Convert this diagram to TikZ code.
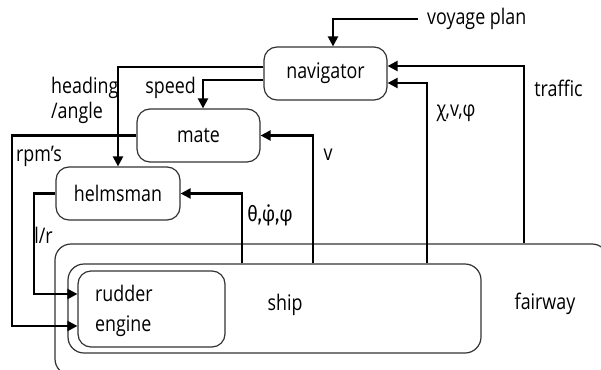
\documentclass[tikz,border=0pt]{standalone}
\usepackage{fontspec}
\setmainfont[FakeStretch=0.83]{Open Sans}
\newfontfamily\greekfont[FakeStretch=0.85]{Fira Sans}
\usetikzlibrary{arrows.meta,calc}
\begin{document}
\begin{tikzpicture}[x=1pt,y=-1pt,
  box/.style={draw=black!80,line width=1.2pt,rounded corners=13pt,inner sep=0pt},
  conn/.style={draw=black,line width=2.2pt,-{Triangle[length=10pt,width=10pt]}},
  lbl/.style={inner sep=0pt,font=\fontsize{21.5}{25}\selectfont},
  txt/.style={inner sep=0pt,font=\fontsize{21.5}{25}\selectfont}]
\useasboundingbox (0,0) rectangle (601,369);
% boxes
\node[box,minimum width=553pt,minimum height=131pt,rounded corners=16pt] (fair) at (331.5,309.5) {};
\node[box,minimum width=413pt,minimum height=89pt,rounded corners=16pt] (ship) at (274.5,308.5) {};
\node[box,minimum width=147pt,minimum height=76pt] (rud) at (151.5,309) {};
\node[box,minimum width=123pt,minimum height=53pt,txt] (nav) at (325.5,73.5) {navigator};
\node[box,minimum width=123pt,minimum height=53pt,txt] (mate) at (198.5,135.5) {mate};
\node[box,minimum width=124pt,minimum height=53pt,txt] (helm) at (118,193.5) {helmsman};
% box texts
\node[txt,anchor=west] (trud) at (95,293) {rudder};
\node[txt,anchor=west] (teng) at (95,326) {engine};
\node[txt] (tship) at (285,305) {ship};
\node[txt] (tfair) at (545,304) {fairway};
% labels
\node[lbl,anchor=west] (vp) at (427,19) {voyage plan};
\node[lbl,anchor=west,align=left] (lhead) at (51,100) {heading\\/angle};
\node[lbl] (lspeed) at (170.5,88) {speed};
\node[lbl] (lrpm) at (39,156) {rpm's};
\node[lbl] (llr) at (43.5,235) {l/r};
\node[lbl] (ltheta) at (270,215) {\greekfont θ,φ̇,φ};
\node[lbl] (lv) at (328,155) {v};
\node[lbl] (lchi) at (456,113) {χ,v,φ};
\node[lbl] (ltraf) at (558.5,88) {traffic};
% connectors
\draw[conn] ([xshift=-9pt]vp.west) -| (nav.north -| 333,0);
\draw[conn] (nav.west |- 0,67) -| (helm.north);
\draw[conn] (nav.west |- 0,80) -| ([xshift=4.5pt]mate.north);
\draw[conn] (mate.west) -| (12,326) -- (rud.west |- 0,326);
\draw[conn] (helm.west) -| (34,294) -- (rud.west |- 0,294);
\draw[conn] (ship.north -| 242,0) |- (helm.east);
\draw[conn] (ship.north -| 313,0) |- (mate.east);
\draw[conn] (ship.north -| 427,0) |- (nav.east |- 0,83);
\draw[conn] (fair.north -| 524,0) |- (nav.east |- 0,66);
\end{tikzpicture}
\end{document}
